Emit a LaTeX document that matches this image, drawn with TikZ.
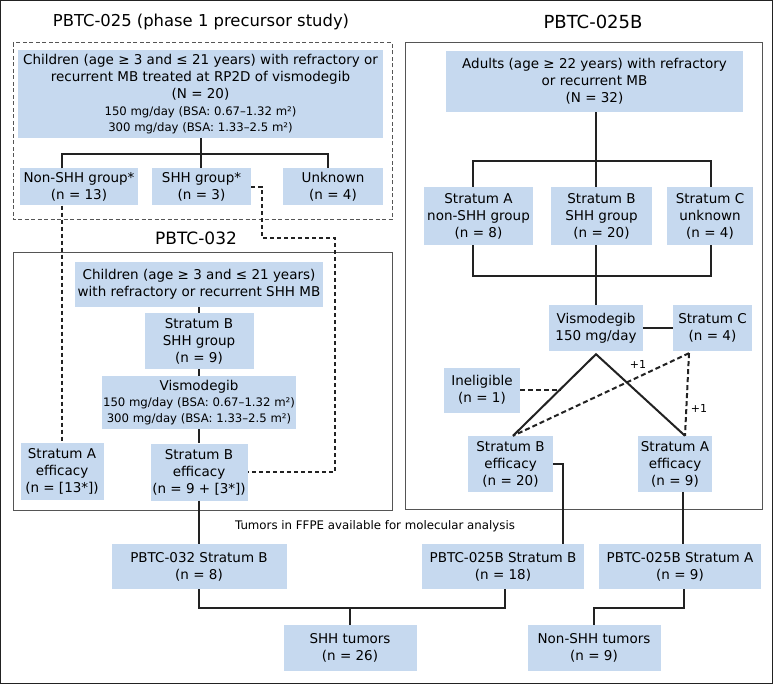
\documentclass[tikz,border=0pt]{standalone}
\usepackage{fontspec}
\setmainfont{DejaVu Sans}
\usetikzlibrary{calc}
\definecolor{boxblue}{HTML}{C6D9EF}
\definecolor{lineblk}{HTML}{222222}
\definecolor{framegray}{HTML}{555555}
\newcommand{\smtxt}{\fontsize{11.7}{14}\selectfont}
\begin{document}
\begin{tikzpicture}[x=1pt,y=-1pt,
  bx/.style={fill=boxblue, inner sep=0pt, align=center, font=\fontsize{13.5}{17}\selectfont},
  conn/.style={draw=lineblk, line width=2pt},
  dotln/.style={draw=lineblk, line width=2pt, dash pattern=on 4pt off 3pt},
  dashln/.style={draw=lineblk, line width=2pt, dash pattern=on 5pt off 3pt},
  frm/.style={draw=framegray, line width=1pt},
  smalltxt/.style={font=\fontsize{11.8}{14}\selectfont}]
\useasboundingbox (0,0) rectangle (775,684);
\fill[white] (0,0) rectangle (775,684);
\draw[draw=lineblk, line width=1.2pt] (0.6,0.6) rectangle (772.5,683.2);

% frames
\draw[frm, dash pattern=on 4pt off 2.5pt] (13,43) rectangle (392,220);
\draw[frm] (13,253) rectangle (392,510);
\draw[frm] (405,43) rectangle (762,509);

% titles
\node[font=\fontsize{16.4}{20}\selectfont] (t1) at (201,22) {PBTC-025 (phase 1 precursor study)};
\node[font=\fontsize{18}{21}\selectfont] (t2) at (593,22) {PBTC-025B};
\node[font=\fontsize{17}{20}\selectfont] (t3) at (196,238) {PBTC-032};

% PBTC-025
\node[bx, minimum width=365pt, minimum height=88pt] (c025) at (200.5,94)
 {Children (age ≥ 3 and ≤ 21 years) with refractory or\\recurrent MB treated at RP2D of vismodegib\\(N = 20)\\[-0.5pt]
  {\smtxt 150 mg/day (BSA: 0.67–1.32 m²)}\\[-1pt]{\smtxt 300 mg/day (BSA: 1.33–2.5 m²)}};
\node[bx, minimum width=118pt, minimum height=37pt] (nonshh) at (79,187) {Non-SHH group*\\(n = 13)};
\node[bx, minimum width=99pt, minimum height=37pt] (shh) at (201.5,187) {SHH group*\\(n = 3)};
\node[bx, minimum width=100pt, minimum height=37pt] (unk) at (333,187) {Unknown\\(n = 4)};

% PBTC-032
\node[bx, minimum width=248pt, minimum height=45pt] (c032) at (199,284.5)
 {Children (age ≥ 3 and ≤ 21 years)\\with refractory or recurrent SHH MB};
\node[bx, minimum width=109pt, minimum height=56pt] (sb032) at (199,341) {Stratum B\\SHH group\\(n = 9)};
\node[bx, minimum width=194pt, minimum height=53pt] (vis032) at (199,402.5)
 {Vismodegib\\[-1pt]{\smtxt 150 mg/day (BSA: 0.67–1.32 m²)}\\[-1pt]{\smtxt 300 mg/day (BSA: 1.33–2.5 m²)}};
\node[bx, minimum width=83pt, minimum height=57pt] (saeff032) at (62,471.5) {Stratum A\\efficacy\\(n = [13*])};
\node[bx, minimum width=97pt, minimum height=57pt] (sbeff032) at (199,472) {Stratum B\\efficacy\\(n = 9 + [3*])};

% PBTC-025B
\node[bx, minimum width=297pt, minimum height=61pt] (adults) at (594.5,81.5)
 {Adults (age ≥ 22 years) with refractory\\or recurrent MB\\(N = 32)};
\node[bx, minimum width=109pt, minimum height=58pt] (sa) at (478.5,216) {Stratum A\\non-SHH group\\(n = 8)};
\node[bx, minimum width=101pt, minimum height=58pt] (sb) at (601.5,216) {Stratum B\\SHH group\\(n = 20)};
\node[bx, minimum width=86pt, minimum height=58pt] (sc) at (710,216) {Stratum C\\unknown\\(n = 4)};
\node[bx, minimum width=94pt, minimum height=46pt] (vis) at (596,328) {Vismodegib\\150 mg/day};
\node[bx, minimum width=79pt, minimum height=46pt] (scn) at (712.5,328) {Stratum C\\(n = 4)};
\node[bx, minimum width=76pt, minimum height=45pt] (inel) at (482,390) {Ineligible\\(n = 1)};
\node[bx, minimum width=85pt, minimum height=56pt] (sbeff) at (510.5,464) {Stratum B\\efficacy\\(n = 20)};
\node[bx, minimum width=74pt, minimum height=56pt] (saeff) at (675,464) {Stratum A\\efficacy\\(n = 9)};

% bottom
\node[smalltxt] (tum) at (375,526) {Tumors in FFPE available for molecular analysis};
\node[bx, minimum width=175pt, minimum height=45pt] (b032) at (199,566.5) {PBTC-032 Stratum B\\(n = 8)};
\node[bx, minimum width=162pt, minimum height=45pt] (b025b) at (503,566.5) {PBTC-025B Stratum B\\(n = 18)};
\node[bx, minimum width=162pt, minimum height=45pt] (b025a) at (680,566.5) {PBTC-025B Stratum A\\(n = 9)};
\node[bx, minimum width=133pt, minimum height=46pt] (shhT) at (350,648) {SHH tumors\\(n = 26)};
\node[bx, minimum width=133pt, minimum height=46pt] (nonT) at (594,648) {Non-SHH tumors\\(n = 9)};

% +1 labels
\node[font=\fontsize{11}{13}\selectfont] (p1) at (638,364) {+1};
\node[font=\fontsize{11}{13}\selectfont] (p2) at (699,408) {+1};

% connectors PBTC-025
\coordinate (j1) at (201,154);
\draw[conn] (c025.south -| j1) -- (shh.north -| j1);
\draw[conn] (saeff032.north |- nonshh.north) |- (j1) -| ($(unk.north)+(-5,0)$);

% dotted
\draw[dotln] (saeff032.north |- nonshh.south) -- (saeff032.north);
\coordinate (d1) at (262,238);
\coordinate (d2) at (335,472);
\draw[dotln] (shh.east) -| (d1) -| (d2) -- (sbeff032.east);

% PBTC-032 chain
\draw[conn] (c032.south) -- (sb032.north);
\draw[conn] (sb032.south) -- (vis032.north);
\draw[conn] (vis032.south) -- (sbeff032.north);
\draw[conn] (sbeff032.south) -- (b032.north);

% PBTC-025B
\coordinate (k1) at (596,161);
\coordinate (k2) at (596,276);
\draw[conn] (adults.south -| k1) -- (k1);
\draw[conn] ($(sa.north)+(-5.5,0)$) |- (k1) -| ($(sc.north)+(1,0)$);
\draw[conn] (k1) -- (sb.north -| k1);
\draw[conn] ($(sa.south)+(-5.5,0)$) |- (k2) -| ($(sc.south)+(1,0)$);
\draw[conn] (sb.south -| k2) -- (vis.north);
\draw[conn] (scn.west) -- (vis.east);
\coordinate (apex) at ($(vis.south)+(0,3)$);
\coordinate (sbtop) at ($(sbeff.north)+(2.5,0)$);
\coordinate (satop) at ($(saeff.north)+(10,0)$);
\draw[conn, line join=miter] (sbtop) -- (apex) -- (satop);
\coordinate (cs) at ($(scn.south)+(-23.5,2)$);
\draw[dashln] (cs) -- (sbtop);
\draw[dashln] (cs) -- (satop);
\path (apex) -- (sbtop) coordinate[pos=0.43] (ij);
\draw[dashln] (inel.east) -- (inel.east -| ij);

% to bottom
\draw[conn] (sbeff.east) -| ($(b025b.north)+(60,0)$);
\coordinate (sa1) at ($(saeff.south)+(8,0)$);
\draw[conn] (sa1) -- (sa1 |- b025a.north);
\coordinate (h1) at (350,608);
\draw[conn] (b032.south) |- (h1) -| ($(b025b.south)+(2,0)$);
\draw[conn] (h1) -- (shhT.north);
\coordinate (h2) at (594,608);
\draw[conn] ($(b025a.south)+(4,0)$) |- (h2) -- (nonT.north);
\end{tikzpicture}
\end{document}
